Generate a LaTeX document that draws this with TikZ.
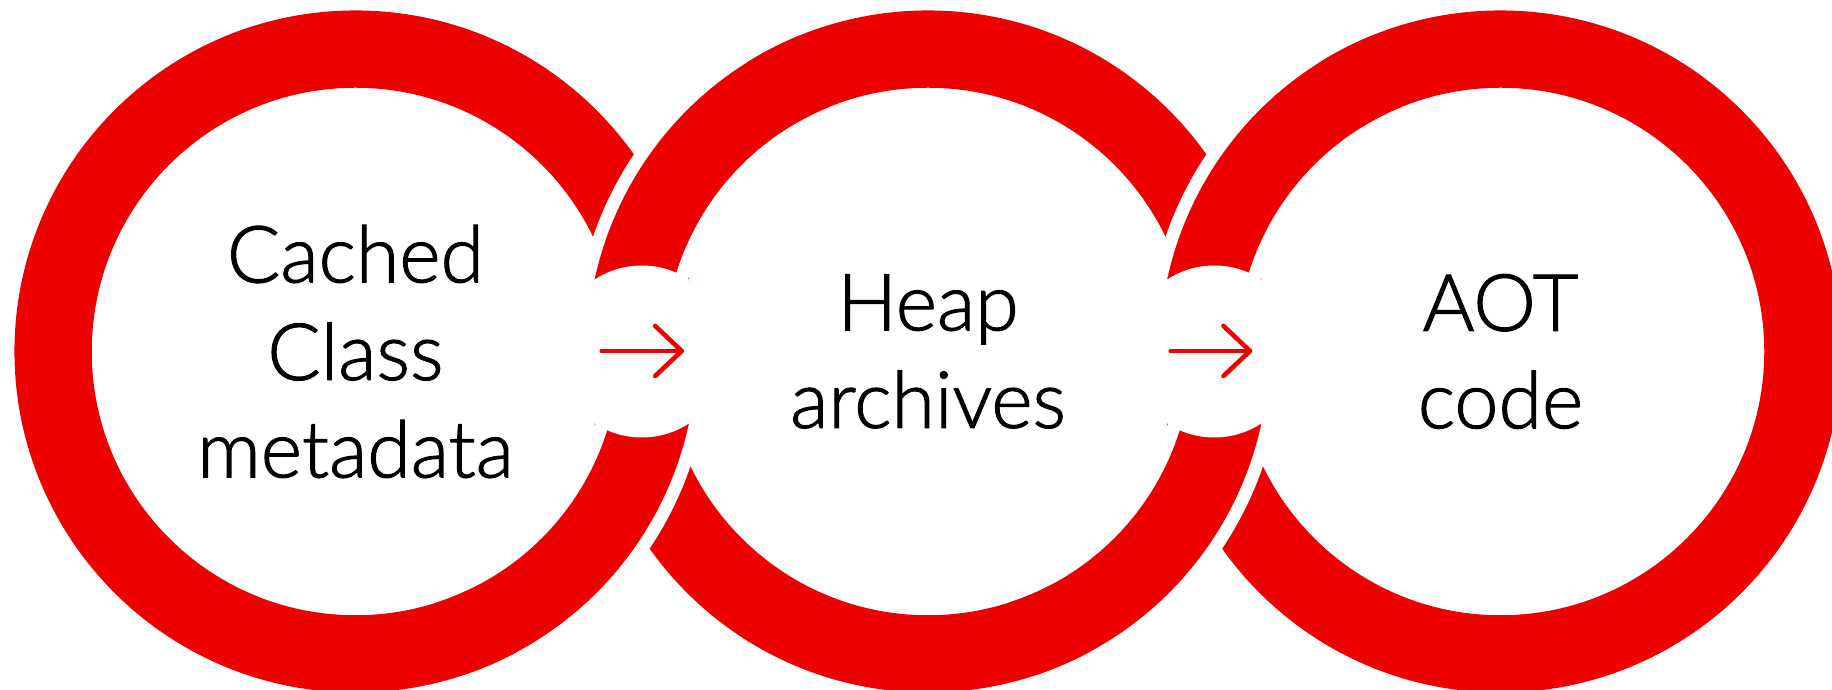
\documentclass[tikz,border=0pt]{standalone}
\usepackage{fontspec}
\setmainfont{Lato}[UprightFont={* Light}, UprightFeatures={FakeBold=1.4}]
\definecolor{ringred}{RGB}{238,0,0}
\begin{document}
\begin{tikzpicture}[x=1pt,y=1pt,
  ring/.style={circle, draw=ringred, line width=77.3pt, minimum size=604.8pt,
    inner sep=0pt, outer sep=0pt, align=center, text=black,
    font=\fontsize{79}{97.5}\selectfont},
  gapband/.style={white, line width=103.3pt},
  redband/.style={ringred, line width=77.3pt},
  hole/.style={circle, fill=white, minimum size=172pt, inner sep=0pt},
  flow/.style={ringred, line width=4.6pt, line cap=round, line join=round}]
\useasboundingbox (0,0) rectangle (1832,690);
\clip (0,0) rectangle (1832,690);

% the three rings with their labels
\node[ring] (r1) at (355.5,338.5) {Cached\\Class\\metadata};
\node[ring] (r2) at (928,338.5) {Heap\\archives};
\node[ring] (r3) at (1500.5,338.5) {AOT\\code};

% upper crossings: the right-hand ring passes over
\foreach \ra in {r2,r3}{
  \draw[gapband] ([shift={(\ra.center)}]122:302.4) arc[start angle=122,end angle=181,radius=302.4];
  \draw[redband] ([shift={(\ra.center)}]112:302.4) arc[start angle=112,end angle=182,radius=302.4];
}
% lower crossings: the left-hand ring passes over
\foreach \ra in {r1,r2}{
  \draw[gapband] ([shift={(\ra.center)}]-62:302.4) arc[start angle=-62,end angle=1,radius=302.4];
  \draw[redband] ([shift={(\ra.center)}]-72:302.4) arc[start angle=-72,end angle=2,radius=302.4];
}

% white openings between the rings
\node[hole] (h1) at (641.75,338.5) {};
\node[hole] (h2) at (1214.25,338.5) {};

% arrows inside the openings
\coordinate (a1s) at (601.7,339);
\coordinate (a1e) at (681.7,339);
\coordinate (a2s) at (1170.7,339);
\coordinate (a2e) at (1250,339);
\draw[flow] (a1s) -- (a1e);
\draw[flow] ([shift={(-26.5,25)}]a1e) -- (a1e) -- ([shift={(-26.5,-25)}]a1e);
\draw[flow] (a2s) -- (a2e);
\draw[flow] ([shift={(-26.5,25)}]a2e) -- (a2e) -- ([shift={(-26.5,-25)}]a2e);
\end{tikzpicture}
\end{document}
